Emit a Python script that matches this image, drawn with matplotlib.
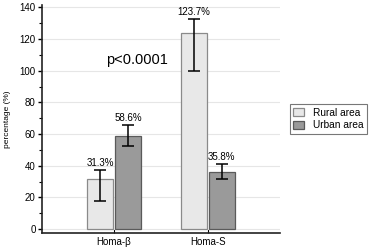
import numpy as np
import matplotlib
matplotlib.use("Agg")
from matplotlib import pyplot as plt
from matplotlib.ticker import MultipleLocator

# data
categories = ["Homa-β", "Homa-S"]
rural = [31.3, 123.7]
urban = [58.6, 35.8]
rural_err_low = [18.0, 100.0]
rural_err_high = [37.0, 132.7]
urban_err_low = [52.5, 31.4]
urban_err_high = [65.7, 40.9]
series_names = ["Rural area", "Urban area"]

plt.rcParams['font.family'] = ['Liberation Sans', 'DejaVu Sans']

fig = plt.figure(figsize=(3.74, 2.5), dpi=100)
ax = fig.add_axes([0.1123, 0.068, 0.6364, 0.912])

x = np.arange(len(categories))
w = 0.277
off = 0.148

rural_yerr = [np.array(rural) - np.array(rural_err_low), np.array(rural_err_high) - np.array(rural)]
urban_yerr = [np.array(urban) - np.array(urban_err_low), np.array(urban_err_high) - np.array(urban)]

ax.bar(x - off, rural, w, color='#e8e8e8', edgecolor='#8a8a8a', linewidth=0.9,
       label=series_names[0], zorder=2)
ax.bar(x + off, urban, w, color='#9a9a9a', edgecolor='#5a5a5a', linewidth=0.9,
       label=series_names[1], zorder=2)
ax.errorbar(x - off, rural, yerr=rural_yerr, fmt='none', ecolor='black',
            elinewidth=1.1, capsize=4, capthick=1.1, zorder=3)
ax.errorbar(x + off, urban, yerr=urban_yerr, fmt='none', ecolor='black',
            elinewidth=1.1, capsize=4, capthick=1.1, zorder=3)

# value labels above the upper error bar
for xi, v, hi in zip(x - off, rural, rural_err_high):
    ax.text(xi, hi + 1.5, "%.1f%%" % v, ha='center', va='bottom', fontsize=7)
for xi, v, hi in zip(x + off, urban, urban_err_high):
    ax.text(xi, hi + 1.5, "%.1f%%" % v, ha='center', va='bottom', fontsize=7)

ax.text(0.245, 106.5, "p<0.0001", ha='center', va='center', fontsize=10.5)

ax.set_xlim(-0.766, 1.766)
ax.set_ylim(-2.5, 141.5)
ax.set_xticks(x)
ax.set_xticklabels(categories, fontsize=7)
ax.yaxis.set_major_locator(MultipleLocator(20))
ax.yaxis.set_minor_locator(MultipleLocator(10))
ax.tick_params(axis='y', labelsize=7, length=3, width=1, pad=1.5)
ax.tick_params(axis='y', which='minor', length=2, width=0.8)
ax.tick_params(axis='x', direction='in', length=3, width=0.8, pad=3)
ax.set_ylabel("percentage (%)", fontsize=6, labelpad=6)

ax.yaxis.grid(True, color='#e6e6e6', linewidth=0.8, zorder=0)
ax.set_axisbelow(True)
for s in ['top', 'right']:
    ax.spines[s].set_visible(False)
for s in ['left', 'bottom']:
    ax.spines[s].set_linewidth(1.2)
    ax.spines[s].set_color('#222222')

leg = ax.legend(loc='center left', bbox_to_anchor=(1.02, 0.5), fontsize=7.3,
                frameon=True, fancybox=False, edgecolor='#555555',
                handlelength=1.0, handleheight=0.9, handletextpad=0.9,
                borderpad=0.35, labelspacing=0.25)
leg.get_frame().set_linewidth(0.8)

fig.savefig("out.png", dpi=100)
